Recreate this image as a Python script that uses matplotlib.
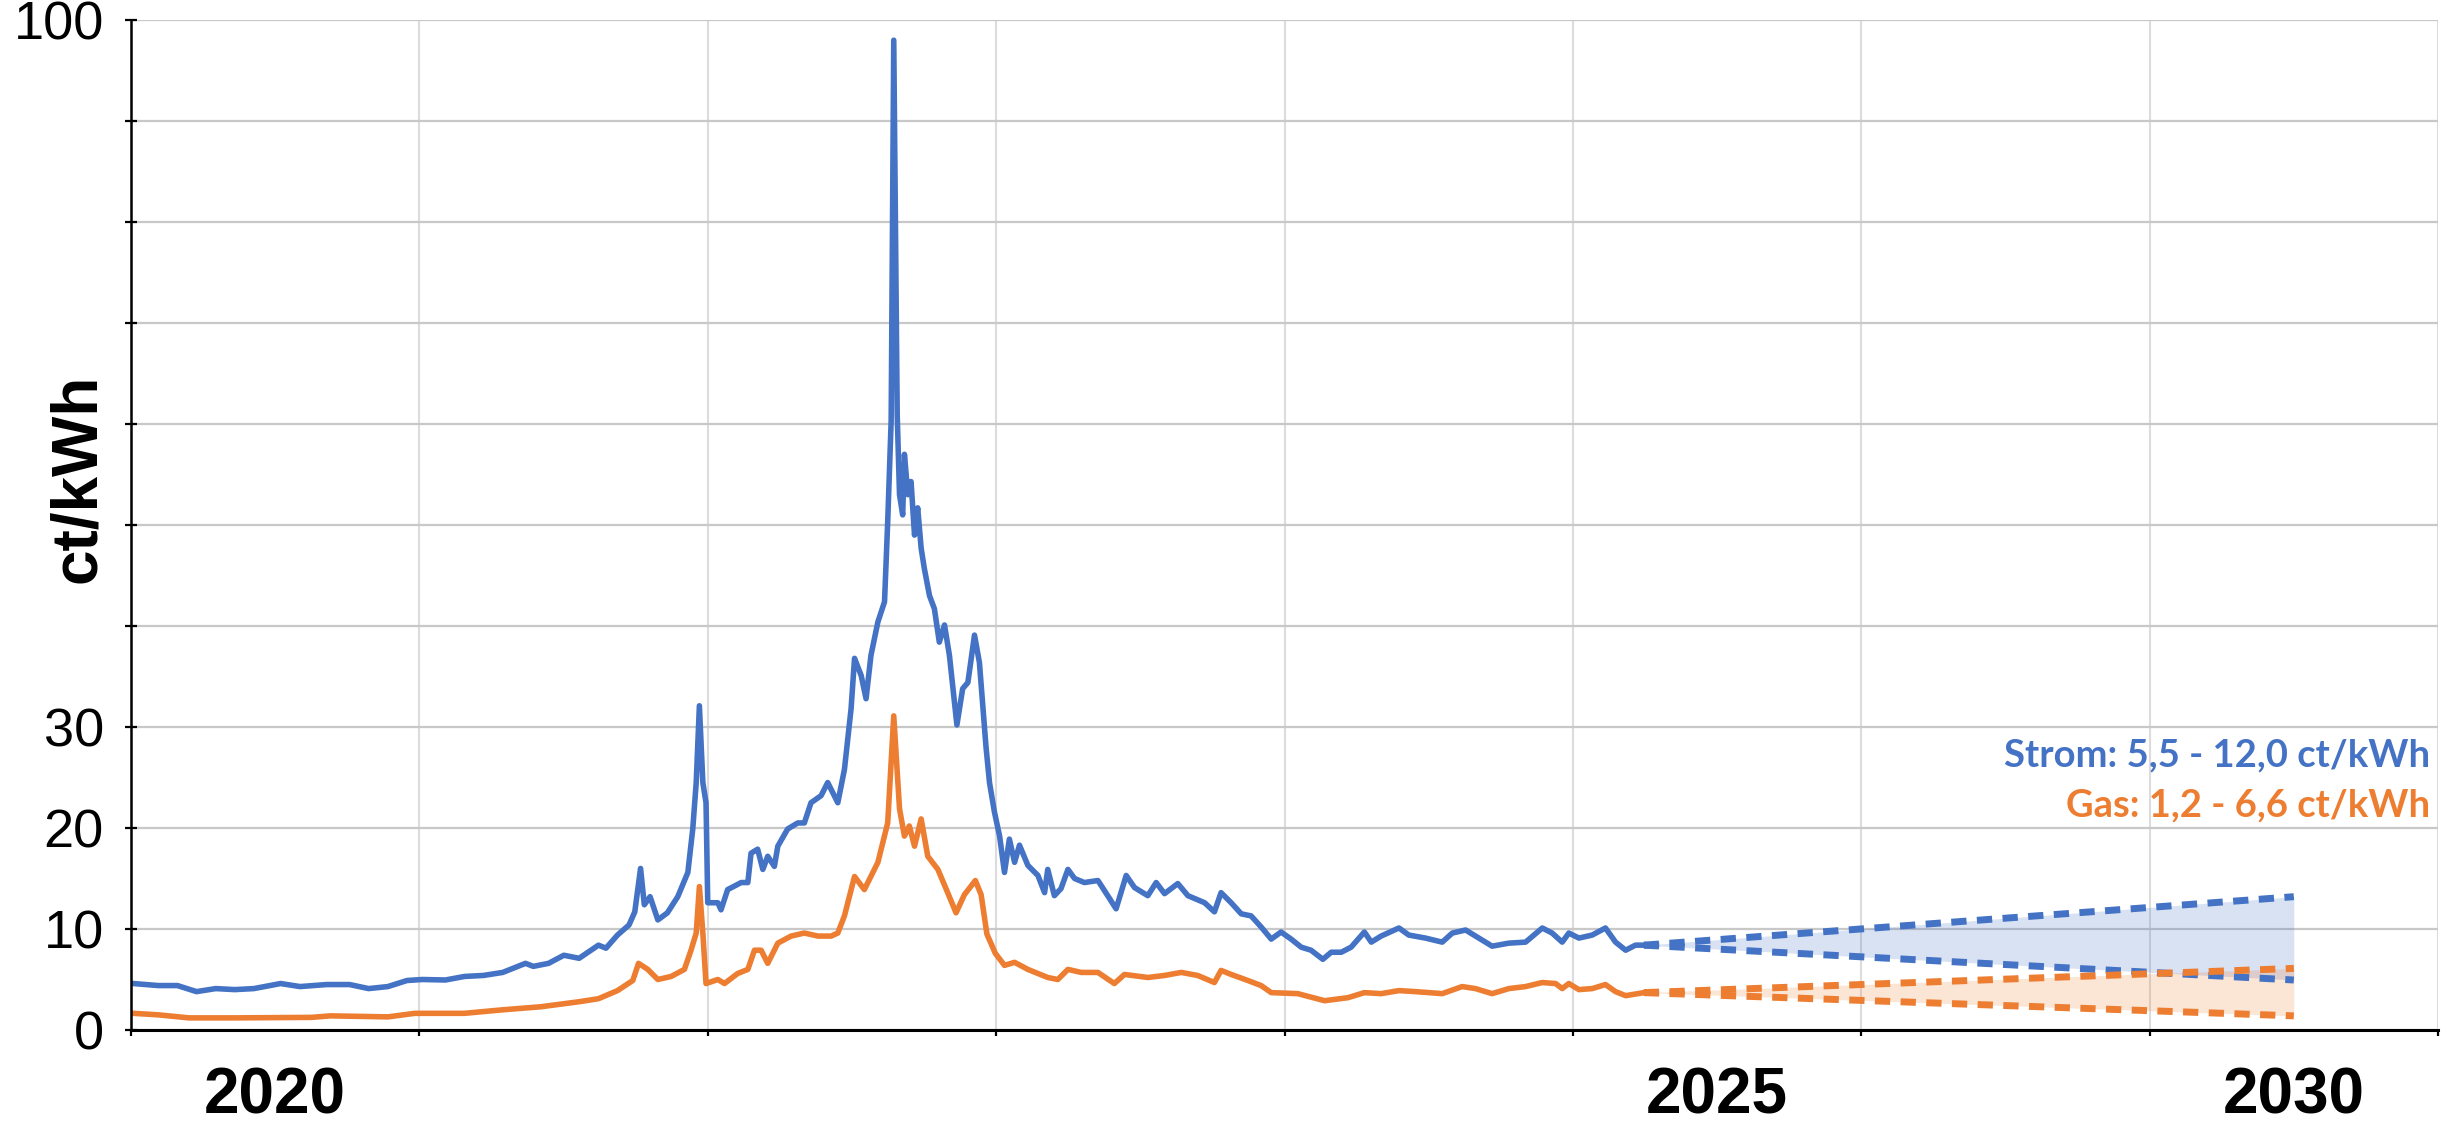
import matplotlib
matplotlib.use("Agg")
import matplotlib.pyplot as plt
import matplotlib.transforms as mtransforms

# x = Position auf der Zeitachse (Jahre), y = ct/kWh
strom_x = [2020.008, 2020.095, 2020.161, 2020.227, 2020.294, 2020.360, 2020.426, 2020.519,
           2020.586, 2020.678, 2020.758, 2020.824, 2020.891, 2020.957, 2021.010, 2021.090,
           2021.156, 2021.222, 2021.289, 2021.368, 2021.395, 2021.448, 2021.501, 2021.554,
           2021.621, 2021.647, 2021.687, 2021.727, 2021.747, 2021.767, 2021.780, 2021.800,
           2021.827, 2021.860, 2021.896, 2021.931, 2021.948, 2021.960, 2021.971, 2021.983,
           2021.994, 2022.000, 2022.035, 2022.046, 2022.069, 2022.116, 2022.139, 2022.150,
           2022.173, 2022.191, 2022.208, 2022.231, 2022.243, 2022.277, 2022.312, 2022.335,
           2022.358, 2022.393, 2022.416, 2022.451, 2022.474, 2022.497, 2022.509, 2022.532,
           2022.549, 2022.566, 2022.590, 2022.613, 2022.624, 2022.636, 2022.645, 2022.657,
           2022.665, 2022.676, 2022.682, 2022.694, 2022.705, 2022.717, 2022.728, 2022.740,
           2022.751, 2022.769, 2022.786, 2022.803, 2022.821, 2022.838, 2022.864, 2022.884,
           2022.902, 2022.925, 2022.942, 2022.965, 2022.977, 2022.994, 2023.012, 2023.029,
           2023.046, 2023.064, 2023.081, 2023.110, 2023.145, 2023.168, 2023.179, 2023.202,
           2023.225, 2023.249, 2023.272, 2023.306, 2023.353, 2023.387, 2023.416, 2023.451,
           2023.480, 2023.526, 2023.555, 2023.584, 2023.630, 2023.665, 2023.723, 2023.757,
           2023.780, 2023.815, 2023.850, 2023.884, 2023.919, 2023.954, 2023.988, 2024.023,
           2024.058, 2024.092, 2024.133, 2024.162, 2024.197, 2024.231, 2024.277, 2024.301,
           2024.335, 2024.397, 2024.431, 2024.489, 2024.547, 2024.582, 2024.628, 2024.674,
           2024.720, 2024.778, 2024.836, 2024.894, 2024.928, 2024.963, 2024.986, 2025.021,
           2025.067, 2025.113, 2025.148, 2025.183, 2025.217, 2025.246]
strom_y = [4.6, 4.4, 4.4, 3.8, 4.1, 4.0, 4.1, 4.6,
           4.3, 4.5, 4.5, 4.1, 4.3, 4.9, 5.0, 4.95,
           5.3, 5.4, 5.7, 6.6, 6.3, 6.6, 7.4, 7.1,
           8.4, 8.1, 9.4, 10.4, 11.7, 16.0, 12.4, 13.2,
           10.9, 11.6, 13.2, 15.6, 19.9, 24.5, 32.1, 24.5,
           22.5, 12.6, 12.6, 11.9, 13.9, 14.6, 14.6, 17.5,
           17.9, 15.9, 17.2, 16.2, 18.2, 19.9, 20.5, 20.5,
           22.5, 23.2, 24.5, 22.5, 25.8, 31.8, 36.8, 35.1,
           32.8, 37.1, 40.4, 42.4, 50.3, 60.3, 98.0, 60.9,
           53.0, 51.0, 57.0, 53.0, 54.3, 49.0, 51.7, 47.7,
           45.7, 43.0, 41.7, 38.4, 40.1, 37.1, 30.2, 33.8,
           34.4, 39.1, 36.4, 28.0, 24.5, 21.6, 19.2, 15.6,
           18.9, 16.6, 18.3, 16.3, 15.3, 13.6, 15.9, 13.3,
           14.0, 15.9, 15.0, 14.6, 14.8, 13.3, 12.0, 15.3,
           14.1, 13.3, 14.6, 13.5, 14.5, 13.3, 12.6, 11.7,
           13.6, 12.6, 11.5, 11.3, 10.2, 9.0, 9.7, 9.0,
           8.2, 7.9, 7.0, 7.7, 7.7, 8.2, 9.7, 8.7,
           9.3, 10.1, 9.4, 9.1, 8.7, 9.6, 9.9, 9.1,
           8.3, 8.6, 8.7, 10.1, 9.6, 8.7, 9.6, 9.1,
           9.4, 10.1, 8.7, 7.9, 8.4, 8.4]

gas_x = [2020.008, 2020.095, 2020.201, 2020.360, 2020.625, 2020.692, 2020.891, 2020.984,
         2021.156, 2021.289, 2021.421, 2021.554, 2021.621, 2021.687, 2021.740, 2021.760,
         2021.792, 2021.827, 2021.873, 2021.919, 2021.942, 2021.960, 2021.971, 2021.983,
         2021.994, 2022.035, 2022.058, 2022.104, 2022.139, 2022.162, 2022.185, 2022.208,
         2022.243, 2022.289, 2022.335, 2022.382, 2022.428, 2022.451, 2022.474, 2022.509,
         2022.543, 2022.590, 2022.624, 2022.645, 2022.665, 2022.682, 2022.699, 2022.717,
         2022.740, 2022.763, 2022.798, 2022.832, 2022.861, 2022.890, 2022.928, 2022.948,
         2022.968, 2022.997, 2023.029, 2023.064, 2023.110, 2023.179, 2023.214, 2023.249,
         2023.295, 2023.353, 2023.410, 2023.445, 2023.526, 2023.584, 2023.642, 2023.699,
         2023.757, 2023.780, 2023.815, 2023.873, 2023.919, 2023.954, 2024.046, 2024.139,
         2024.220, 2024.277, 2024.335, 2024.397, 2024.454, 2024.547, 2024.616, 2024.662,
         2024.720, 2024.778, 2024.836, 2024.894, 2024.940, 2024.963, 2024.986, 2025.021,
         2025.067, 2025.113, 2025.148, 2025.183, 2025.246]
gas_y = [1.65, 1.5, 1.2, 1.2, 1.25, 1.4, 1.3, 1.65,
         1.65, 2.0, 2.3, 2.8, 3.1, 3.9, 4.9, 6.6,
         6.0, 5.0, 5.3, 6.0, 7.9, 9.6, 14.2, 9.6,
         4.6, 5.0, 4.6, 5.6, 6.0, 7.9, 7.9, 6.6,
         8.6, 9.3, 9.6, 9.3, 9.3, 9.6, 11.3, 15.2,
         13.9, 16.6, 20.5, 31.1, 21.9, 19.2, 20.2, 18.2,
         20.9, 17.2, 15.9, 13.6, 11.6, 13.4, 14.8, 13.4,
         9.5, 7.6, 6.4, 6.7, 6.0, 5.2, 5.0, 6.0,
         5.7, 5.7, 4.6, 5.5, 5.2, 5.4, 5.7, 5.4,
         4.7, 5.9, 5.5, 4.9, 4.4, 3.7, 3.6, 2.9,
         3.2, 3.7, 3.6, 3.9, 3.8, 3.6, 4.3, 4.1,
         3.6, 4.1, 4.3, 4.7, 4.6, 4.1, 4.6, 4.0,
         4.1, 4.5, 3.8, 3.4, 3.7]

# Prognose-Korridor (Ende bei der Position der Beschriftung "2030")
forecast_x = [2025.246, 2027.5]
strom_hi = [8.4, 13.2]
strom_lo = [8.4, 4.95]
gas_hi = [3.7, 6.1]
gas_lo = [3.7, 1.4]

y_ticks = list(range(0, 101, 10))
y_labels = ["0", "10", "20", "30", "", "", "", "", "", "", "100"]
grid_years = list(range(2020, 2029))
year_pos = [2020.5, 2025.5, 2027.5]
year_labels = ["2020", "2025", "2030"]

strom_text = "Strom: 5,5 - 12,0 ct/kWh"
gas_text = "Gas: 1,2 - 6,6 ct/kWh"

blue = "#4472C4"
orange = "#ED7D31"

plt.rcParams["font.family"] = ["Liberation Sans", "DejaVu Sans"]

W, H = 2458, 1125
fig = plt.figure(figsize=(W / 100, H / 100), dpi=100)
ax = fig.add_axes([131 / W, 95 / H, 2307 / W, 1010 / H])

ax.set_xlim(2020, 2028)
ax.set_ylim(0, 100)

# Korridore
ax.fill_between(forecast_x, strom_lo, strom_hi, color=blue, alpha=0.2, lw=0)
ax.fill_between(forecast_x, gas_lo, gas_hi, color=orange, alpha=0.2, lw=0)

# Verlauf
ax.plot(gas_x, gas_y, color=orange, lw=4.0, solid_joinstyle="round")
ax.plot(strom_x, strom_y, color=blue, lw=4.0, solid_joinstyle="round")

dash = (2.2, 1.5)
for vals, col in [(strom_hi, blue), (strom_lo, blue), (gas_hi, orange), (gas_lo, orange)]:
    ax.plot(forecast_x, vals, color=col, lw=5.0, linestyle=(0, dash))

# Achsen
ax.set_yticks(y_ticks, y_labels)
ax.set_xticks(grid_years, [""] * len(grid_years))
ax.set_xticks(year_pos, year_labels, minor=True, fontsize=46, fontweight="bold")

ax.tick_params(axis="y", direction="inout", length=9, width=1.6, pad=15, labelsize=39)
ax.tick_params(axis="x", which="major", direction="out", length=4, width=1.6)
ax.tick_params(axis="x", which="minor", length=0, pad=26)

ax.xaxis.grid(True, color="#dcdcdc", lw=1.5)
ax.yaxis.grid(True, color="#c8c8c8", lw=1.6)
ax.set_axisbelow(True)

for side in ["top", "right"]:
    ax.spines[side].set_visible(False)
ax.spines["left"].set_linewidth(1.8)
ax.spines["bottom"].set_linewidth(2.2)

fig.text(78 / W, 1 - 478 / H, "ct/kWh", rotation=90, fontsize=46,
         fontweight="bold", ha="center", va="center")

trans = mtransforms.blended_transform_factory(ax.transAxes, ax.transData)
ax.text(0.9965, 27.2, strom_text, transform=trans, ha="right", va="center",
        color=blue, fontsize=27.5, fontweight="bold", family=["Lato", "DejaVu Sans"])
ax.text(0.9965, 22.2, gas_text, transform=trans, ha="right", va="center",
        color=orange, fontsize=27.5, fontweight="bold", family=["Lato", "DejaVu Sans"])

fig.savefig("out.png", dpi=100)
plt.close(fig)
